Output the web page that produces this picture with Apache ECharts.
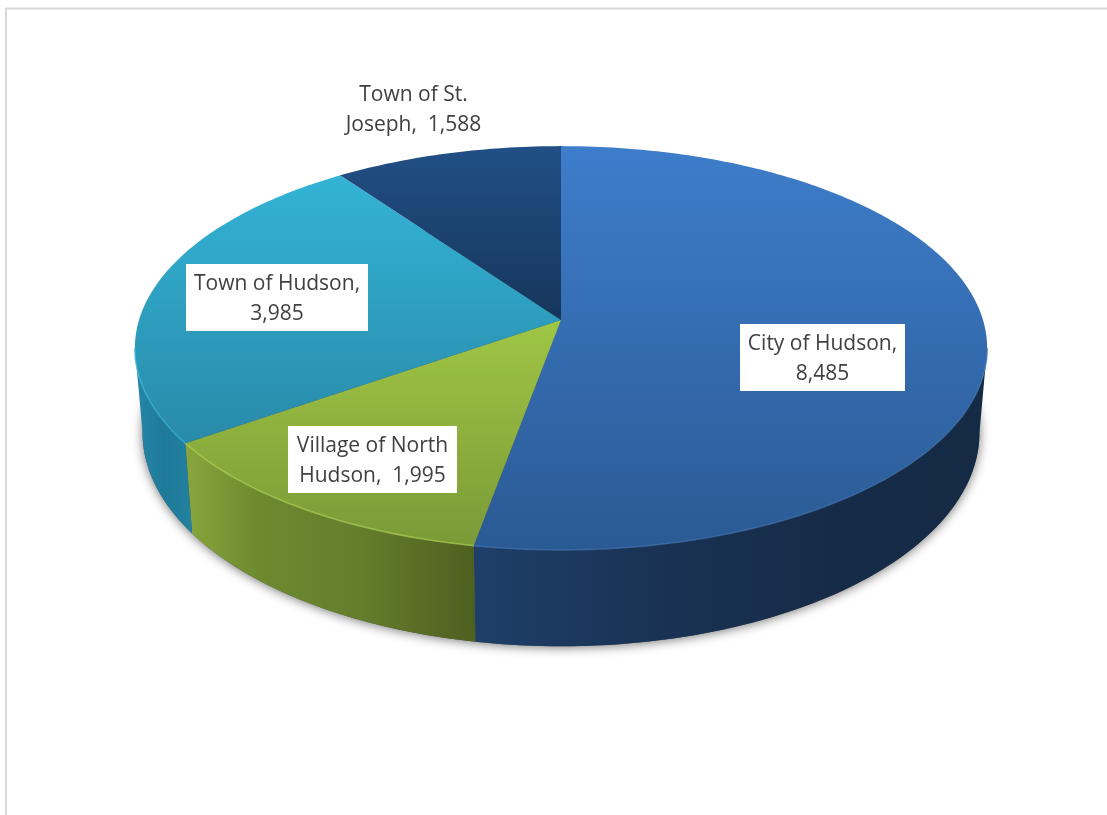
<!DOCTYPE html>
<html>
<head>
<meta charset="utf-8">
<title>Population by municipality</title>
<style>html,body{margin:0;padding:0;background:#fff}#chart{width:1107px;height:815px}</style>
<script src="https://cdn.jsdelivr.net/npm/echarts@6/dist/echarts.min.js"></script>
</head>
<body>
<div id="chart"></div>
<script>
// Population figures, clockwise from twelve o'clock
const categories = ['City of Hudson', 'Village of North Hudson', 'Town of Hudson', 'Town of St. Joseph'];
const values = [8485, 1995, 3985, 1588];
// Where each label wraps onto its second line
const firstLines = ['City of Hudson,', 'Village of North', 'Town of Hudson,', 'Town of St.'];

// Label boxes: left, top, width, height, filled
const labelBoxes = [
  [740, 324, 165, 67, true],
  [288, 426, 169, 67, true],
  [186, 264, 182, 67, true],
  [331, 78, 165, 60, false]
];

// Face colours per slice
const topColors = [['#3e7dcb', '#2a5a94'], ['#a0c645', '#7a9a37'], ['#33b3d6', '#298aa9'], ['#214f85', '#16365b']];
const sideColors = [
  [[0, '#1e3f69'], [0.3, '#1a3457'], [0.7, '#162b47'], [1, '#152a45']],
  [[0, '#88a63b'], [0.25, '#6d8a30'], [0.6, '#647e2c'], [1, '#4e5f20']],
  [[0, '#2587a9'], [0.5, '#1f7a99'], [1, '#22809f']],
  [[0, '#16365b'], [1, '#16365b']]
];
const rimColors = ['#3f70ad', '#aed152', '#3ab7d9', '#2b5c96'];

// Perspective model of the disc
const CX = 561, CY = 320, RX = 422, RY = 198, TILT = 0.1387, DEPTH = 83, TAPER = 0.018;
const FRONT_FROM = 98, FRONT_TO = 262;

const total = values.reduce((a, b) => a + b, 0);
const starts = values.reduce((acc, v) => { acc.push(acc[acc.length - 1] + v / total * 360); return acc; }, [0]);

function project(deg, radius, drop) {
  const t = deg * Math.PI / 180;
  const u = radius * Math.sin(t), v = -radius * Math.cos(t);
  const d = 1 - TILT * v;
  return [CX + RX * u / d * (1 - drop * TAPER), CY + RY * v / d + drop * DEPTH / d];
}

function arc(from, to, drop) {
  const pts = [];
  const n = Math.max(2, Math.ceil(Math.abs(to - from)));
  for (let i = 0; i <= n; i++) pts.push(project(from + (to - from) * i / n, 1, drop));
  return pts;
}

function sliceRange(params, api) {
  const sweep = api.value(0) / total * 360;
  const from = starts[params.dataIndex];
  return [from, from + sweep];
}

function vertical(c) {
  return { type: 'linear', x: 0, y: 0, x2: 0, y2: 1, colorStops: [{ offset: 0, color: c[0] }, { offset: 1, color: c[1] }] };
}

function horizontal(stops) {
  return { type: 'linear', x: 0, y: 0, x2: 1, y2: 0, colorStops: stops.map(s => ({ offset: s[0], color: s[1] })) };
}

function renderShadow() {
  return {
    type: 'polygon',
    shape: { points: arc(0, 360, 1) },
    style: { fill: '#555', shadowBlur: 11, shadowColor: 'rgba(0,0,0,0.55)', shadowOffsetY: 1 },
    silent: true
  };
}

function renderSide(params, api) {
  const [a, b] = sliceRange(params, api);
  const from = Math.max(a, FRONT_FROM), to = Math.min(b, FRONT_TO);
  if (to <= from) return { type: 'group', children: [] };
  const pts = arc(from, to, 0).concat(arc(to, from, 1));
  return {
    type: 'polygon',
    shape: { points: pts },
    style: { fill: horizontal(sideColors[params.dataIndex]), stroke: null }
  };
}

function renderTop(params, api) {
  const [a, b] = sliceRange(params, api);
  const i = params.dataIndex;
  const children = [{
    type: 'polygon',
    shape: { points: [project(0, 0, 0)].concat(arc(a, b, 0)) },
    style: { fill: vertical(topColors[i]) }
  }];
  const from = Math.max(a, FRONT_FROM), to = Math.min(b, FRONT_TO);
  if (to > from) {
    children.push({
      type: 'polyline',
      shape: { points: arc(from, to, 0) },
      style: { fill: null, stroke: rimColors[i], lineWidth: 1.6, opacity: 0.7 }
    });
  }
  return { type: 'group', children };
}

function renderLabel(params, api) {
  const i = params.dataIndex;
  const [left, top, w, h, filled] = labelBoxes[i];
  const full = categories[i] + ',  ' + api.value(0).toLocaleString('en-US');
  const second = full.slice(firstLines[i].length).replace(/^\s*,?\s*/, '');
  const children = [];
  if (filled) {
    children.push({ type: 'rect', shape: { x: left, y: top, width: w, height: h }, style: { fill: '#fff' } });
  }
  children.push({
    type: 'text',
    style: {
      x: left + w / 2,
      y: top + h / 2 + 2,
      text: firstLines[i] + '\n' + second,
      align: 'center',
      verticalAlign: 'middle',
      fill: '#404040',
      font: '21px "Open Sans"',
      lineHeight: 30
    }
  });
  return { type: 'group', children };
}

const chart = echarts.init(document.getElementById('chart'), null, { renderer: 'canvas' });
chart.setOption({
  animation: false,
  backgroundColor: '#fff',
  tooltip: { show: false },
  graphic: [
    { type: 'line', silent: true, shape: { x1: 6, y1: 8.5, x2: 1107, y2: 8.5 }, style: { stroke: '#d9d9d9', lineWidth: 2 } },
    { type: 'line', silent: true, shape: { x1: 6, y1: 8, x2: 6, y2: 815 }, style: { stroke: '#d9d9d9', lineWidth: 2 } }
  ],
  series: [
    { type: 'custom', name: 'shadow', coordinateSystem: 'none', z: 1, silent: true, data: [total], renderItem: renderShadow },
    { type: 'custom', name: 'sides', coordinateSystem: 'none', z: 2, silent: true, data: values, renderItem: renderSide },
    { type: 'custom', name: 'tops', coordinateSystem: 'none', z: 3, silent: true, data: values, renderItem: renderTop },
    { type: 'custom', name: 'labels', coordinateSystem: 'none', z: 4, silent: true, data: values, renderItem: renderLabel }
  ]
});
</script>
</body>
</html>
